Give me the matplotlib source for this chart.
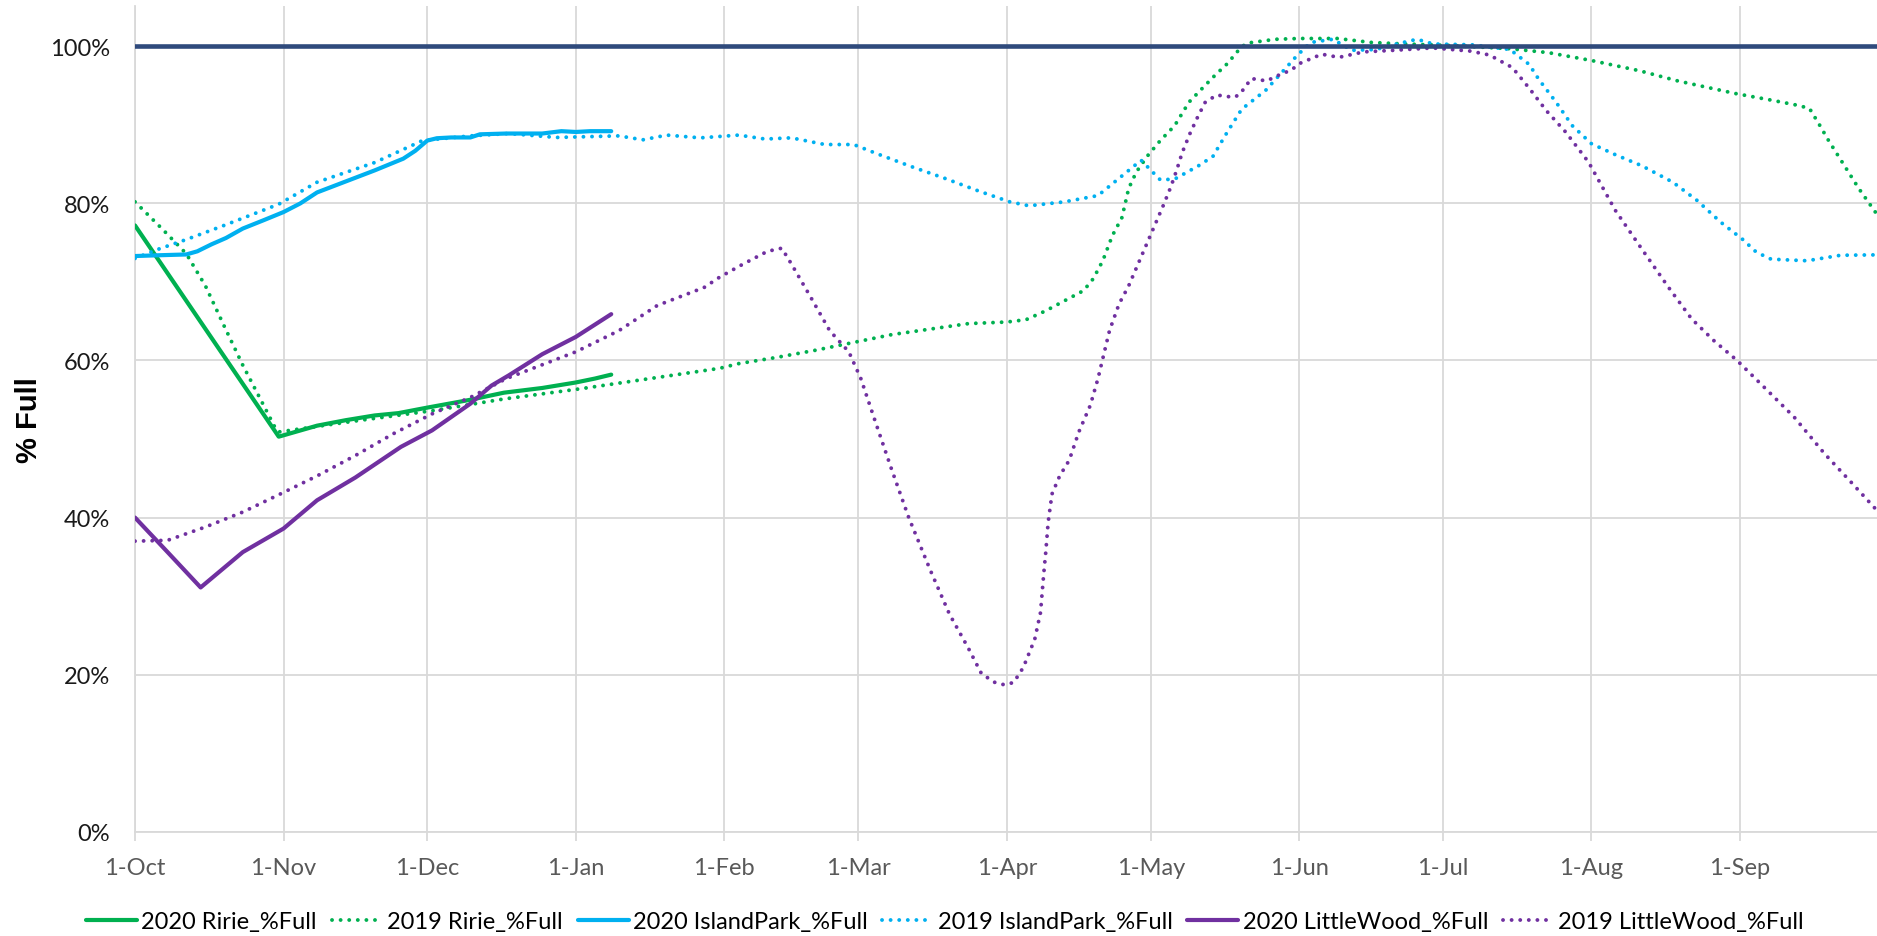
import numpy as np
import pandas as pd
import matplotlib
matplotlib.use("Agg")
import matplotlib.pyplot as plt
from matplotlib.ticker import FuncFormatter, MultipleLocator

# ---------------- data (day offset from 1-Oct, % full) ----------------
season_start = pd.Timestamp("2018-10-01")
month_starts = pd.date_range("2018-10-01", "2019-09-01", freq="MS")
month_labels = ["1-Oct", "1-Nov", "1-Dec", "1-Jan", "1-Feb", "1-Mar",
                "1-Apr", "1-May", "1-Jun", "1-Jul", "1-Aug", "1-Sep"]
full_pool = 100.0

ririe_2020_day = [0, 30, 38, 44, 50, 55, 61, 70, 77, 85, 92, 96, 99.4]
ririe_2020_pct = [77.2, 50.3, 51.7, 52.4, 53.0, 53.3, 54.0, 55.0, 55.9, 56.5, 57.2, 57.7, 58.2]

ririe_2019_day = [0, 5.6, 10.7, 14.7, 18.6, 22.5, 26.5, 29.2, 30, 46, 62, 77, 93, 122, 126, 134,
                  142, 150, 158, 166, 174, 182, 186, 190, 194, 198, 200, 202, 204, 206, 207.4,
                  209, 211.4, 214, 217, 220, 223, 225.4, 228, 230.6, 232, 238, 243, 251, 258,
                  265, 275, 287, 295, 304, 314, 322, 334, 342, 347, 349.5, 351.5, 353.5, 356.6,
                  359.8, 363.6]
ririe_2019_pct = [80.2, 76.8, 73.6, 69.5, 64.4, 59.4, 54.7, 51.5, 50.9, 52.3, 53.6, 55.1, 56.4,
                  59.0, 59.6, 60.4, 61.3, 62.3, 63.3, 64.0, 64.7, 64.9, 65.2, 66.3, 67.6, 68.9,
                  70.4, 72.7, 75.9, 78.2, 81.9, 84.0, 86.1, 88.0, 89.9, 92.9, 94.8, 96.3, 97.8,
                  99.7, 100.4, 100.9, 101.0, 101.0, 100.5, 100.3, 100.1, 99.7, 99.2, 98.2, 96.9,
                  95.6, 94.0, 93.1, 92.5, 92.1, 90.1, 88.0, 85.0, 81.9, 78.6]

islandpark_2020_day = [0, 5, 10.7, 13, 16, 19, 22.5, 27, 31, 34.5, 38, 44, 50, 56, 58.5, 61, 63,
                       66, 70, 72, 77.5, 85, 89, 92, 95, 99.4]
islandpark_2020_pct = [73.3, 73.4, 73.5, 73.9, 74.8, 75.6, 76.8, 77.9, 78.9, 80.0, 81.4, 82.8,
                       84.2, 85.7, 86.7, 88.0, 88.3, 88.4, 88.4, 88.8, 88.9, 88.9, 89.2, 89.1,
                       89.2, 89.2]

islandpark_2019_day = [0, 5, 10.7, 18.6, 30, 38, 50, 60, 70, 78, 88, 101, 106, 111, 118, 126,
                       131.5, 137, 144, 150, 155, 162, 169, 176, 182.6, 186.6, 194, 201, 206,
                       210, 214, 217, 222, 225, 228, 231, 236, 240, 242.5, 245.4, 250, 254, 259,
                       264, 267.6, 271, 279, 287, 291, 293, 296.6, 300, 304, 309, 314.5, 321,
                       326, 331, 335.6, 338.4, 341.5, 349, 356, 363.6]
islandpark_2019_pct = [73.0, 74.2, 75.4, 77.2, 79.9, 82.7, 85.2, 88.0, 88.6, 88.9, 88.4, 88.6,
                       88.1, 88.7, 88.35, 88.7, 88.2, 88.35, 87.5, 87.5, 86.3, 84.7, 83.2, 81.6,
                       80.2, 79.7, 80.2, 81.0, 83.5, 85.5, 83.0, 83.1, 84.8, 86.0, 89.1, 92.0,
                       94.4, 97.1, 98.8, 100.5, 100.9, 99.5, 99.6, 100.4, 100.9, 100.3, 100.2,
                       99.6, 97.7, 95.8, 92.9, 89.9, 87.6, 86.2, 84.8, 82.7, 80.4, 77.6, 75.4,
                       73.8, 72.9, 72.7, 73.4, 73.45]

littlewood_2020_day = [0, 6.8, 13.7, 22.5, 31, 38, 46, 55.5, 62, 70, 74.4, 78, 85, 92, 99.4]
littlewood_2020_pct = [40.0, 35.6, 31.1, 35.6, 38.6, 42.2, 45.1, 49.0, 51.1, 54.5, 56.8, 58.1,
                       60.8, 63.0, 65.9]

littlewood_2019_day = [0, 6.8, 14.7, 22.5, 31, 38, 46, 54, 62, 70, 77.5, 92, 101, 109, 118.8,
                       122, 126.7, 132, 135, 137, 141, 145, 149, 151.5, 154.7, 158, 161.5, 166,
                       170, 174, 176.7, 179.5, 181.5, 183.4, 185.4, 187.8, 189, 189.7, 190.1,
                       190.6, 191.4, 193, 195, 197, 199.4, 201, 203.4, 205.4, 207.4, 209.8,
                       212.2, 214.6, 216.2, 217.4, 218.6, 220.2, 221.8, 223.4, 225.8, 229.4,
                       230.6, 233, 236.2, 238.6, 241.4, 243, 247.7, 251.3, 256.5, 262.8, 270.8,
                       278.7, 282.7, 287.5, 291.1, 294.6, 298.6, 303.4, 309, 314.5, 320.1, 324.9,
                       329.6, 334.4, 340.7, 346.3, 352.7, 358.2, 363.6]
littlewood_2019_pct = [37.0, 37.1, 38.8, 40.7, 43.2, 45.3, 47.9, 50.7, 53.2, 55.3, 57.7, 61.1,
                       63.8, 67.0, 69.3, 70.6, 72.2, 73.9, 74.3, 72.3, 68.1, 63.8, 61.1, 57.7,
                       51.9, 46.0, 40.0, 33.3, 27.7, 23.3, 20.1, 19.0, 18.7, 19.0, 20.9, 24.5,
                       27.9, 33.0, 35.6, 39.4, 43.0, 45.3, 47.3, 50.9, 54.3, 57.7, 63.8, 67.2,
                       69.5, 72.9, 76.3, 79.7, 82.1, 84.2, 86.5, 88.9, 91.0, 92.9, 93.8, 93.5,
                       93.9, 95.9, 95.6, 96.3, 97.0, 97.8, 99.0, 98.6, 99.3, 99.5, 99.8, 99.4,
                       98.9, 97.3, 94.6, 91.8, 89.1, 85.25, 79.1, 74.2, 69.3, 65.3, 62.5, 60.0,
                       56.2, 52.8, 48.1, 44.5, 40.9]

series_labels = ["2020 Ririe_%Full", "2019 Ririe_%Full", "2020 IslandPark_%Full",
                 "2019 IslandPark_%Full", "2020 LittleWood_%Full", "2019 LittleWood_%Full"]

# ---------------- styling ----------------
GREEN = "#00B050"
BLUE = "#00B0F0"
PURPLE = "#7030A0"
NAVY = "#2F4A7C"
GRID = "#D9D9D9"
FONT = "Lato"

W, H = 1877, 937
fig = plt.figure(figsize=(W / 100, H / 100), dpi=100)
ax = fig.add_axes([135 / W, 104.3 / H, 1 - 135 / W, 825.4 / H])


def to_dates(days):
    return season_start + pd.to_timedelta(np.asarray(days, dtype=float), unit="D")


solid_kw = dict(lw=3.0, solid_capstyle="round", solid_joinstyle="round")
dot_kw = dict(lw=2.8, linestyle=(0, (0.01, 2.2)), dash_capstyle="round")

series = [
    (ririe_2020_day, ririe_2020_pct, GREEN, solid_kw),
    (ririe_2019_day, ririe_2019_pct, GREEN, dot_kw),
    (islandpark_2020_day, islandpark_2020_pct, BLUE, solid_kw),
    (islandpark_2019_day, islandpark_2019_pct, BLUE, dot_kw),
    (littlewood_2020_day, littlewood_2020_pct, PURPLE, solid_kw),
    (littlewood_2019_day, littlewood_2019_pct, PURPLE, dot_kw),
]
handles = []
for (d, p, c, kw), lab in zip(series, series_labels):
    ln, = ax.plot(to_dates(d), p, color=c, label=lab, zorder=3, **kw)
    handles.append(ln)

ax.axhline(full_pool, color=NAVY, lw=3.3, zorder=4)

ax.set_xlim(season_start, season_start + pd.Timedelta(days=363.6))
ax.set_ylim(0, 105.1)
ax.set_xticks(month_starts)
ax.set_xticklabels(month_labels)
ax.yaxis.set_major_locator(MultipleLocator(20))
ax.yaxis.set_major_formatter(FuncFormatter(lambda v, _: f"{v:.0f}%"))

ax.grid(True, color=GRID, lw=1.3, zorder=0)
ax.set_axisbelow(True)
for s in ["top", "right"]:
    ax.spines[s].set_visible(False)
for s in ["left", "bottom"]:
    ax.spines[s].set_color(GRID)
    ax.spines[s].set_linewidth(1.3)

ax.tick_params(axis="x", direction="out", length=6.5, width=1.3, color=GRID,
               labelcolor="#595959", labelsize=17, pad=12)
ax.tick_params(axis="y", length=0, labelcolor="#1a1a1a", labelsize=17, pad=18)
for lbl in ax.get_xticklabels() + ax.get_yticklabels():
    lbl.set_fontfamily(FONT)

fig.text(29 / W, 1 - 420 / H, "% Full", rotation=90, ha="center", va="center",
         fontsize=21, fontweight="bold", family="Liberation Sans", color="#000000")

leg = fig.legend(handles=handles, labels=series_labels, loc="center",
                 bbox_to_anchor=(945 / W, 14 / H), ncol=6, frameon=False,
                 prop={"family": FONT, "size": 17}, handlelength=2.16,
                 handletextpad=0.17, columnspacing=0.64, borderpad=0, borderaxespad=0)

fig.savefig("out.png", dpi=100)
